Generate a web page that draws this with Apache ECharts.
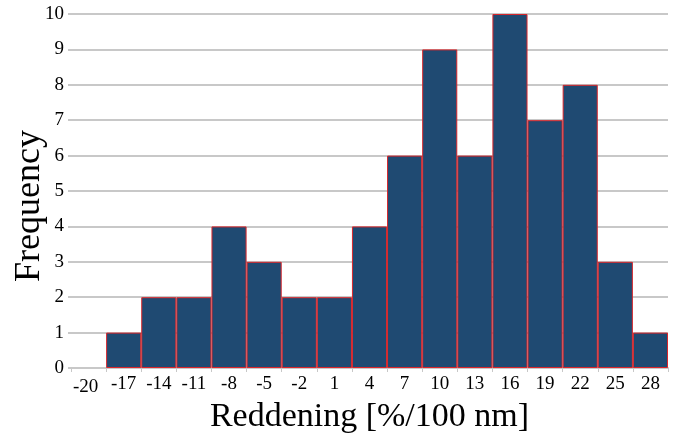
<!DOCTYPE html>
<html>
<head>
<meta charset="utf-8">
<script src="https://cdn.jsdelivr.net/npm/echarts@6/dist/echarts.min.js"></script>
<style>html,body{margin:0;padding:0;background:#fff}#c{width:681px;height:437px}</style>
</head>
<body>
<div id="c"></div>
<script>
var categories = ['-20','-17','-14','-11','-8','-5','-2','1','4','7','10','13','16','19','22','25','28'];
var frequencies = [0,1,2,2,4,3,2,2,4,6,9,6,10,7,8,3,1];
var yTicks = [0,1,2,3,4,5,6,7,8,9,10];

var font = '"Liberation Serif", "DejaVu Serif", serif';
var chart = echarts.init(document.getElementById('c'), null, {renderer:'canvas'});
chart.setOption({
  animation:false,
  backgroundColor:'#fff',
  grid:{left:71,right:13,top:14,bottom:69,containLabel:false,outerBoundsMode:'none'},
  xAxis:{
    type:'category',
    data:categories,
    boundaryGap:true,
    name:'Reddening [%/100 nm]',
    nameLocation:'middle',
    nameGap:32,
    nameMoveOverlap:false,
    nameTextStyle:{fontFamily:font,fontSize:34,color:'#000'},
    axisLine:{show:true,lineStyle:{color:'#c8c8c8',width:2}},
    axisTick:{show:true,alignWithLabel:false,length:4,lineStyle:{color:'#c8c8c8',width:1}},
    axisLabel:{fontFamily:font,fontSize:19,color:'#000',margin:7,interval:0,
      formatter:function(v,i){return i===0?'{a|'+v+'}':v;},
      rich:{a:{fontFamily:font,fontSize:19,color:'#000',padding:[3,6,0,0]}}}
  },
  yAxis:{
    type:'value',
    min:yTicks[0],
    max:yTicks[yTicks.length-1],
    interval:1,
    name:'Frequency',
    nameLocation:'middle',
    nameGap:23,
    nameMoveOverlap:false,
    nameTextStyle:{fontFamily:font,fontSize:36,color:'#000',padding:[0,30,0,0]},
    axisLine:{show:false},
    axisTick:{show:true,length:3,lineStyle:{color:'#c8c8c8',width:2}},
    axisLabel:{fontFamily:font,fontSize:19,color:'#000',margin:7},
    splitLine:{show:true,lineStyle:{color:'#c8c8c8',width:2}}
  },
  series:[{
    type:'bar',
    data:frequencies.map(function(v){return v===0?'-':v;}),
    barCategoryGap:'0%',
    itemStyle:{color:'#1f4a72',borderColor:'#d8262b',borderWidth:1}
  }]
});
</script>
</body>
</html>
